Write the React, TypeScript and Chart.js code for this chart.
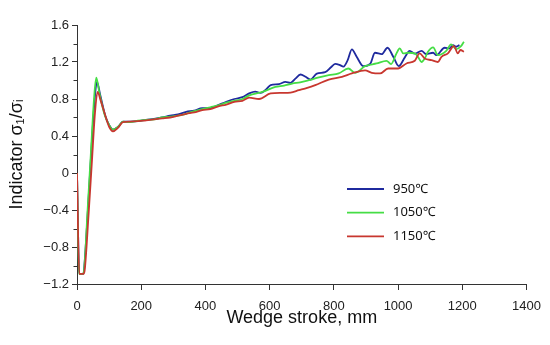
import { useEffect, useRef } from "react";
import { Chart, registerables } from "chart.js";

Chart.register(...registerables);

// ---- data (wedge stroke in mm, indicator value) ----
const seriesLabels = ["950℃", "1050℃", "1150℃"];
const seriesColors = ["#1f2a9e", "#45dd45", "#c8372f"];

const stroke950 = [
  0, 7, 20, 23, 34, 44, 54, 62, 72, 88, 100, 112, 128, 143, 165, 190, 215, 240,
  265, 290, 315, 340, 365, 390, 415, 440, 465, 490, 515, 536, 555, 572, 588, 603,
  629, 649, 665, 680, 696, 712, 727, 747, 773, 790, 804, 817, 830, 843, 856, 871,
  892, 913, 928, 949, 967, 985, 1002, 1021, 1036, 1052, 1073, 1088, 1109, 1119,
  1145, 1160, 1171, 1181, 1191,
];
const ind950 = [
  0, -1.09, -1.09, -1.0, -0.4, 0.2, 0.75, 0.985, 0.85, 0.62, 0.52, 0.47, 0.5, 0.555, 0.555, 0.56, 0.575, 0.585,
  0.6, 0.62, 0.635, 0.66, 0.675, 0.7, 0.7, 0.735, 0.77, 0.8, 0.82, 0.86, 0.88, 0.866, 0.9, 0.95,
  0.96, 0.985, 0.974, 1.02, 1.065, 1.04, 1.01, 1.075, 1.09, 1.14, 1.18, 1.17, 1.15, 1.22, 1.336, 1.256,
  1.155, 1.18, 1.3, 1.285, 1.354, 1.256, 1.155, 1.25, 1.32, 1.29, 1.32, 1.285, 1.3, 1.274,
  1.354, 1.347, 1.383, 1.365, 1.383,
];

const stroke1050 = [
  0, 6, 18, 22, 33, 43, 53, 60, 70, 86, 100, 112, 128, 143, 165, 190, 215, 240,
  265, 290, 315, 340, 365, 390, 415, 440, 465, 490, 515, 536, 577, 618, 645, 670,
  695, 722, 750, 784, 815, 845, 866, 897, 933, 964, 978, 995, 1005, 1016, 1031, 1052,
  1062, 1073, 1083, 1093, 1109, 1124, 1150, 1165, 1181, 1196, 1205,
];
const ind1050 = [
  0, -1.09, -1.09, -1.05, -0.4, 0.2, 0.8, 1.03, 0.86, 0.63, 0.52, 0.47, 0.5, 0.555, 0.55, 0.565, 0.575, 0.58,
  0.6, 0.61, 0.62, 0.64, 0.67, 0.69, 0.71, 0.73, 0.76, 0.78, 0.8, 0.84, 0.876, 0.93, 0.945, 0.967,
  0.98, 1.003, 1.03, 1.057, 1.076, 1.13, 1.083, 1.155, 1.184, 1.213, 1.177, 1.293, 1.347, 1.293, 1.3, 1.293,
  1.256, 1.2, 1.238, 1.31, 1.358, 1.274, 1.32, 1.39, 1.34, 1.372, 1.42,
];

const stroke1150 = [
  0, 7, 20, 24, 36, 46, 56, 64, 74, 90, 100, 112, 128, 143, 165, 190, 215, 240,
  265, 290, 315, 340, 365, 390, 415, 440, 465, 490, 515, 536, 567, 603, 639, 665,
  691, 717, 742, 784, 825, 856, 897, 918, 944, 969, 1000, 1026, 1052, 1067, 1083, 1104,
  1124, 1135, 1155, 1174, 1186, 1194, 1205,
];
const ind1150 = [
  0, -1.09, -1.09, -1.05, -0.45, 0.1, 0.65, 0.876, 0.78, 0.6, 0.5, 0.45, 0.49, 0.55, 0.555, 0.56, 0.57, 0.58,
  0.59, 0.6, 0.62, 0.64, 0.655, 0.68, 0.69, 0.72, 0.74, 0.77, 0.78, 0.815, 0.8, 0.86, 0.866, 0.87,
  0.895, 0.92, 0.95, 1.01, 1.04, 1.076, 1.11, 1.083, 1.076, 1.13, 1.13, 1.184, 1.213, 1.293, 1.238, 1.22,
  1.2, 1.256, 1.293, 1.372, 1.293, 1.33, 1.31,
];

const xMin = 0;
const xMax = 1400;
const xStep = 200;
const yMin = -1.2;
const yMax = 1.6;
const yStep = 0.4;

const FONT = "Arial, 'Liberation Sans', sans-serif";

export default function App() {
  const ref = useRef<HTMLCanvasElement | null>(null);

  useEffect(() => {
    document.body.style.margin = "0";
    const canvas = ref.current;
    if (!canvas) return;

    const pts = (xs: number[], ys: number[]) => xs.map((x, i) => ({ x, y: ys[i] }));

    const extras = {
      id: "extras",
      afterDraw(chart: any) {
        const { ctx, chartArea, scales } = chart;
        const ys = scales.y;
        // minor ticks on y axis
        ctx.save();
        ctx.strokeStyle = "#333";
        ctx.lineWidth = 1;
        for (let v = yMin + yStep / 2; v < yMax; v += yStep) {
          const py = Math.round(ys.getPixelForValue(v)) + 0.5;
          ctx.beginPath();
          ctx.moveTo(chartArea.left - 3.5, py);
          ctx.lineTo(chartArea.left, py);
          ctx.stroke();
        }
        // legend inside the plot
        const lx = chartArea.left + 270;
        let ly = chartArea.top + 164;
        ctx.font = "13px 'Noto Sans', sans-serif";
        ctx.textBaseline = "middle";
        ctx.textAlign = "left";
        chart.data.datasets.forEach((ds: any) => {
          ctx.strokeStyle = ds.borderColor;
          ctx.lineWidth = 1.8;
          ctx.beginPath();
          ctx.moveTo(lx, ly);
          ctx.lineTo(lx + 37, ly);
          ctx.stroke();
          ctx.fillStyle = "#111";
          ctx.fillText(ds.label, lx + 46, ly);
          ly += 23.7;
        });
        ctx.restore();
      },
    };

    const chart = new Chart(canvas, {
      type: "line",
      data: {
        datasets: [
          { label: seriesLabels[0], data: pts(stroke950, ind950), borderColor: seriesColors[0], order: 2 },
          { label: seriesLabels[1], data: pts(stroke1050, ind1050), borderColor: seriesColors[1], order: 1 },
          { label: seriesLabels[2], data: pts(stroke1150, ind1150), borderColor: seriesColors[2], order: 0 },
        ],
      },
      options: {
        animation: false,
        responsive: false,
        maintainAspectRatio: false,
        layout: { padding: { top: 25, right: 21, bottom: 0, left: 0 } },
        plugins: { legend: { display: false }, tooltip: { enabled: false } },
        elements: {
          point: { radius: 0 },
          line: { borderWidth: 1.8, tension: 0.35, cubicInterpolationMode: "monotone", fill: false },
        },
        scales: {
          x: {
            type: "linear",
            min: xMin,
            max: xMax,
            ticks: {
              stepSize: xStep,
              padding: 9,
              color: "#222",
              font: { size: 13, family: FONT },
              callback: (v: any) => String(Math.round(Number(v))),
            },
            grid: { drawOnChartArea: false, drawTicks: true, tickLength: 6, color: "#333", tickColor: "#333" },
            border: { display: true, color: "#333", width: 1 },
            title: {
              display: true,
              text: "Wedge stroke, mm",
              color: "#111",
              font: { size: 18, family: FONT },
              padding: { top: 0, bottom: 16 },
            },
            afterFit: (s: any) => {
              s.height = 61;
            },
          },
          y: {
            type: "linear",
            min: yMin,
            max: yMax,
            ticks: {
              stepSize: yStep,
              padding: 3,
              color: "#222",
              font: { size: 13, family: FONT },
              callback: (v: any) => {
                const n = Number(v);
                if (Math.abs(n) < 1e-9) return "0";
                return (n < 0 ? "\u2212" : "") + Math.abs(n).toFixed(1);
              },
            },
            grid: { drawOnChartArea: false, drawTicks: true, tickLength: 5, color: "#333", tickColor: "#333" },
            border: { display: true, color: "#333", width: 1 },
            title: {
              display: true,
              text: "Indicator σ₁/σᵢ",
              color: "#111",
              font: { size: 18, family: FONT },
              padding: { top: 6, bottom: 0 },
            },
            afterFit: (s: any) => {
              s.width = 77;
            },
          },
        },
      },
      plugins: [extras],
    } as any);

    return () => chart.destroy();
  }, []);

  return (
    <div style={{ width: 550, height: 345 }}>
      <canvas ref={ref} width={550} height={345} style={{ display: "block" }} />
    </div>
  );
}
